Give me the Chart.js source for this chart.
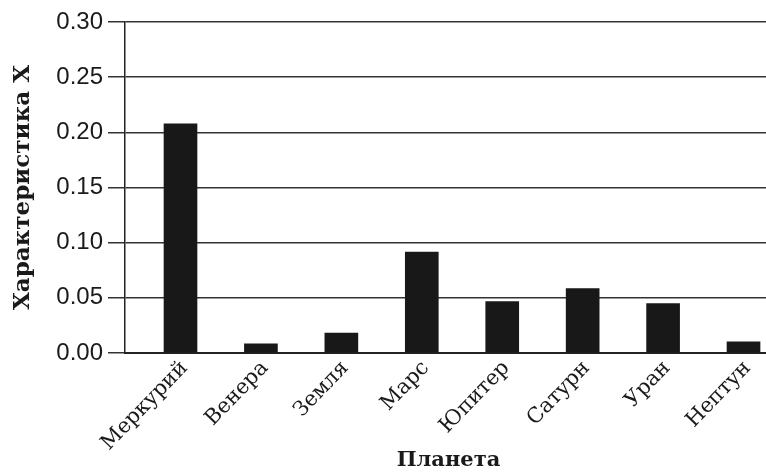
<!DOCTYPE html>
<html>
<head>
<meta charset="utf-8">
<script src="https://cdn.jsdelivr.net/npm/chart.js@4/dist/chart.umd.min.js"></script>
<style>
  html, body { margin: 0; padding: 0; background: #fff; overflow: hidden; width: 766px; height: 474px; }
  #wrap { position: relative; width: 772px; height: 474px; }
</style>
</head>
<body>
<div id="wrap"><canvas id="c" width="772" height="474"></canvas></div>
<script>
const categories = ['Меркурий', 'Венера', 'Земля', 'Марс', 'Юпитер', 'Сатурн', 'Уран', 'Нептун'];
const values = [0.2076, 0.0082, 0.018, 0.0915, 0.0465, 0.0583, 0.0447, 0.0102];
const yTicks = [0.00, 0.05, 0.10, 0.15, 0.20, 0.25, 0.30];
const xTitle = 'Планета';
const yTitle = 'Характеристика X';

const serif = '"DejaVu Serif", "Liberation Serif", serif';
const sans = '"Liberation Sans", Arial, sans-serif';

new Chart(document.getElementById('c'), {
  type: 'bar',
  data: {
    datasets: [{
      data: values.map((v, i) => ({ x: i, y: v })),
      backgroundColor: '#181818',
      borderWidth: 0,
      barThickness: 33
    }]
  },
  options: {
    responsive: false,
    animation: false,
    events: [],
    layout: { padding: { top: 22, left: 0, right: 0, bottom: 0 } },
    plugins: { legend: { display: false }, tooltip: { enabled: false } },
    scales: {
      x: {
        type: 'linear',
        min: -0.69,
        max: 7.354,
        offset: false,
        afterBuildTicks: (scale) => { scale.ticks = categories.map((_, i) => ({ value: i })); },
        afterFit: (scale) => { scale.height = 121; },
        grid: { display: false, drawTicks: false },
        border: { display: true, color: '#222', width: 2 },
        ticks: {
          autoSkip: false,
          minRotation: 46,
          maxRotation: 46,
          padding: 3,
          labelOffset: 4,
          color: '#1a1a1a',
          font: { family: serif, size: 21 },
          callback: (v) => categories[v]
        },
        title: {
          display: true,
          text: xTitle,
          color: '#1a1a1a',
          font: { family: serif, size: 21, weight: 'bold' },
          padding: { top: 0, bottom: 1 }
        }
      },
      y: {
        min: 0,
        max: 0.30,
        afterBuildTicks: (scale) => { scale.ticks = yTicks.map(v => ({ value: v })); },
        afterFit: (scale) => { scale.width = 125; },
        grid: { color: '#333', lineWidth: 1.5, tickLength: 17, drawTicks: true },
        border: { display: true, color: '#222', width: 1.5 },
        ticks: {
          padding: 5,
          color: '#1a1a1a',
          font: { family: sans, size: 24 },
          callback: (v) => v.toFixed(2)
        },
        title: {
          display: true,
          text: yTitle,
          color: '#1a1a1a',
          font: { family: serif, size: 23, weight: 'bold' },
          padding: { top: 9, bottom: 0 }
        }
      }
    }
  }
});
</script>
</body>
</html>
